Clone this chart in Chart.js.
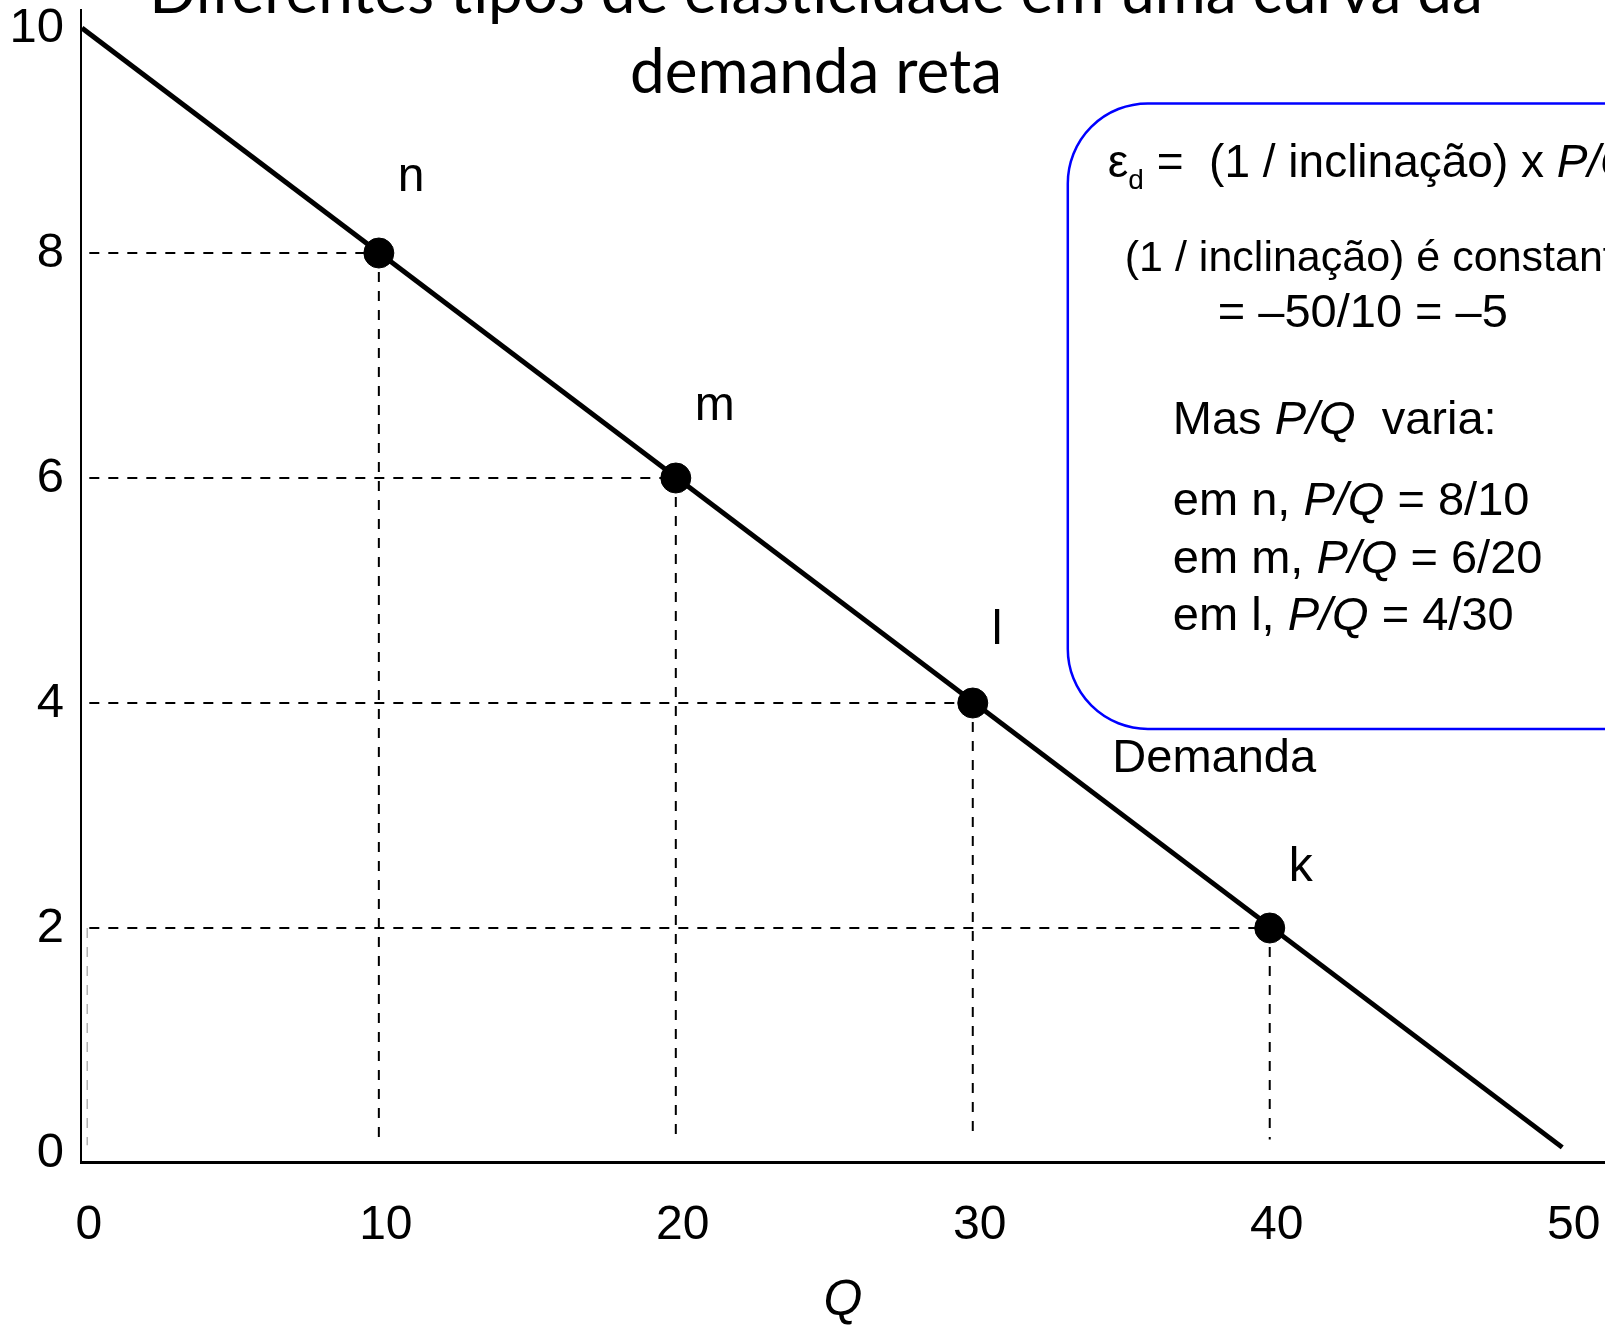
<!DOCTYPE html>
<html>
<head>
<meta charset="utf-8">
<script src="https://cdn.jsdelivr.net/npm/chart.js@4.4.1/dist/chart.umd.min.js"></script>
<style>
    body { margin: 0; background: #fff; }
    #wrap { width: 1605px; height: 1326px; overflow: hidden; }
</style>
</head>
<body>
<div id="wrap"><canvas id="demandChart" width="1605" height="1326"></canvas></div>
<script>
const titleLines = ['Diferentes tipos de elasticidade em uma curva da', 'demanda reta'];
const xTicks = [0, 10, 20, 30, 40, 50];
const yTicks = [0, 2, 4, 6, 8, 10];
const demandQ = [0, 49.85];
const demandP = [10, 0.05];
const pointNames = ['n', 'm', 'l', 'k'];
const pointQ = [10, 20, 30, 40];
const pointP = [8, 6, 4, 2];
const slopeInverse = '\u201350/10 = \u20135';

// small vertical nudges for the point letters (pixels)
const labelNudge = [-2, 2, 1, 13];

const FONT = '"Liberation Sans", Arial, sans-serif';
const TITLE_FONT = 'Lato, "Open Sans", sans-serif';

// Dashed guides from each point to the axes
const guideSets = [];
pointQ.forEach((q, i) => {
    const p = pointP[i];
    guideSets.push({
        data: [{ x: 0.25, y: p }, { x: q, y: p }],
        showLine: true, borderColor: '#000', borderWidth: 2, borderDash: [10, 9],
        pointRadius: 0, order: 3
    });
    guideSets.push({
        data: [{ x: q, y: p }, { x: q, y: 0.12 }],
        showLine: true, borderColor: '#000', borderWidth: 2, borderDash: [10, 9],
        pointRadius: 0, order: 3
    });
});
// faint grey guide under the price 2 line
guideSets.push({
    data: [{ x: 0.18, y: 2 }, { x: 0.18, y: 0.07 }],
    showLine: true, borderColor: '#b4b4b4', borderWidth: 1.5, borderDash: [10, 9],
    pointRadius: 0, order: 3
});

const datasets = [
    {
        label: 'Pontos',
        data: pointQ.map((q, i) => ({ x: q, y: pointP[i] })),
        backgroundColor: '#000', borderColor: '#000',
        pointRadius: 15, pointHoverRadius: 15, showLine: false, order: 0
    },
    {
        label: 'Demanda',
        data: demandQ.map((q, i) => ({ x: q, y: demandP[i] })),
        showLine: true, borderColor: '#000', borderWidth: 5,
        pointRadius: 0, order: 1
    },
    ...guideSets
];

function drawRich(ctx, segments, x, y, size) {
    let cx = x;
    segments.forEach(s => {
        const sz = s.sub ? Math.round(size * 0.6) : size;
        ctx.font = `${s.it ? 'italic ' : ''}${sz}px ${FONT}`;
        ctx.fillText(s.t, cx, s.sub ? y + 12 : y);
        cx += ctx.measureText(s.t).width;
    });
}

// axes sit right at the chart edges, no room kept for the end labels
function fixAxisBox(scale) {
    scale.paddingLeft = 0;
    scale.paddingRight = 0;
    scale.paddingTop = 0;
    scale.paddingBottom = 0;
    if (scale.axis === 'x') scale.height = 164;
    else scale.width = 70;
}

const annotations = {
    id: 'annotations',
    afterDraw(chart) {
        const { ctx, scales: { x, y } } = chart;
        ctx.save();
        ctx.fillStyle = '#000';
        ctx.textBaseline = 'alphabetic';

        // title (runs off the top of the picture)
        ctx.font = `62px ${TITLE_FONT}`;
        ctx.textAlign = 'center';
        ctx.fillText(titleLines[0], 816, 13);
        ctx.fillText(titleLines[1], 816, 93);

        // point labels
        ctx.textAlign = 'left';
        ctx.font = `48px ${FONT}`;
        pointNames.forEach((name, i) => {
            ctx.fillText(name, x.getPixelForValue(pointQ[i]) + 19,
                y.getPixelForValue(pointP[i]) - 60 + labelNudge[i]);
        });

        // curve label
        ctx.font = `47px ${FONT}`;
        ctx.fillText('Demanda', x.getPixelForValue(34.7), y.getPixelForValue(3.39));

        // formula box
        const bx = x.getPixelForValue(33.2);
        const by = y.getPixelForValue(9.33);
        const bb = y.getPixelForValue(3.77);
        ctx.beginPath();
        ctx.roundRect(bx, by, 700, bb - by, 80);
        ctx.strokeStyle = '#0000ff';
        ctx.lineWidth = 2.5;
        ctx.stroke();

        drawRich(ctx, [{ t: '\u03b5' }, { t: 'd', sub: true }, { t: ' =  (1 / inclinação) x ' }, { t: 'P/Q', it: true }], bx + 40, by + 74, 46);
        drawRich(ctx, [{ t: '(1 / inclinação) é constante' }], bx + 57, by + 168, 43);
        drawRich(ctx, [{ t: '= ' + slopeInverse }], bx + 150, by + 224, 47);
        drawRich(ctx, [{ t: 'Mas ' }, { t: 'P/Q', it: true }, { t: '  varia:' }], bx + 105, by + 331, 47);
        pointNames.slice(0, 3).forEach((name, i) => {
            drawRich(ctx, [{ t: `em ${name}, ` }, { t: 'P/Q', it: true }, { t: ` = ${pointP[i]}/${pointQ[i]}` }],
                bx + 105, by + 412 + i * 57.5, 47);
        });
        ctx.restore();
    }
};

const ctx = document.getElementById('demandChart').getContext('2d');
new Chart(ctx, {
    type: 'scatter',
    data: { datasets },
    options: {
        responsive: false,
        animation: false,
        devicePixelRatio: 1,
        layout: { autoPadding: false, padding: { left: 11, right: 0, top: 10, bottom: 0 } },
        plugins: {
            legend: { display: false },
            tooltip: { enabled: false },
            title: { display: false }
        },
        scales: {
            x: {
                type: 'linear',
                min: -0.03,
                max: 51.29,
                afterBuildTicks: axis => { axis.ticks = xTicks.map(v => ({ value: v })); },
                afterFit: fixAxisBox,
                grid: { display: false, drawTicks: false },
                border: { display: true, color: '#000', width: 3 },
                ticks: {
                    color: '#000',
                    font: { family: FONT, size: 48, lineHeight: 1 },
                    padding: 40,
                    labelOffset: 7,
                    maxRotation: 0,
                    autoSkip: false
                },
                title: {
                    display: true,
                    text: 'Q',
                    color: '#000',
                    font: { family: FONT, size: 50, style: 'italic', lineHeight: 1 },
                    padding: { top: 19, bottom: 0 }
                }
            },
            y: {
                type: 'linear',
                min: -0.08,
                max: 10.16,
                afterBuildTicks: axis => { axis.ticks = yTicks.map(v => ({ value: v })); },
                afterFit: fixAxisBox,
                grid: { display: false, drawTicks: false },
                border: { display: true, color: '#000', width: 2 },
                ticks: {
                    color: '#000',
                    font: { family: FONT, size: 49, lineHeight: 1 },
                    padding: 17
                }
            }
        }
    },
    plugins: [annotations]
});
</script>
</body>
</html>
